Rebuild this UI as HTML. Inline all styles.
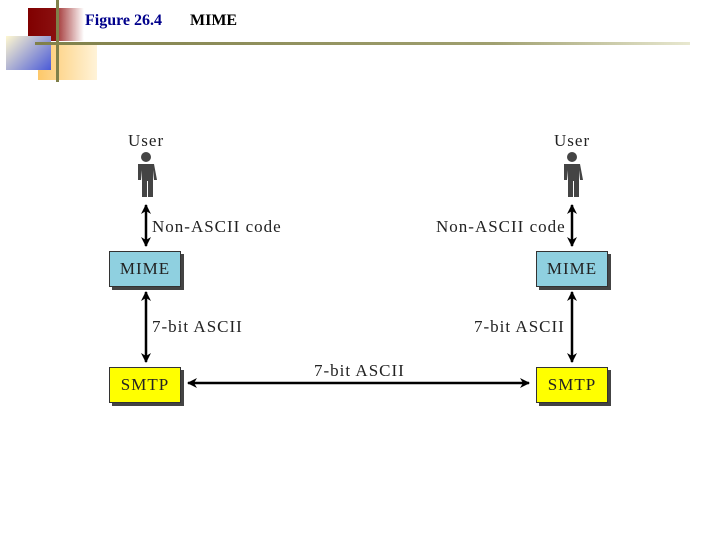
<!DOCTYPE html>
<html><head><style>
body{margin:0;width:720px;height:540px;background:#fff;position:relative;overflow:hidden;font-family:"Liberation Serif",serif}
.a{position:absolute}
.box{position:absolute;width:72px;height:36px;border:1px solid #333;box-shadow:3px 3px 0 #444;font-size:17px;letter-spacing:1px;text-align:center;line-height:34px;color:#222;box-sizing:border-box}
.lbl{position:absolute;font-size:17px;letter-spacing:1px;color:#222;white-space:nowrap}
</style></head><body>
<div class="a" style="left:38px;top:45px;width:59px;height:35px;background:linear-gradient(90deg,#fdc86a,#fff3d8)"></div>
<div class="a" style="left:28px;top:8px;width:28px;height:33px;background:linear-gradient(90deg,#800000,#8a1010)"></div>
<div class="a" style="left:56px;top:8px;width:28px;height:33px;background:linear-gradient(90deg,#a03030,#fff)"></div>
<div class="a" style="left:6px;top:36px;width:45px;height:34px;background:linear-gradient(135deg,#fff8d0,#4a5ad8)"></div>
<div class="a" style="left:56px;top:0;width:3px;height:82px;background:#80804a"></div>
<div class="a" style="left:35px;top:42px;width:655px;height:3px;background:linear-gradient(90deg,#80804a,#a0a070 70%,#e8e8d0)"></div>
<div class="a" style="left:85px;top:12px;font-size:16px;font-weight:bold;color:#00008b">Figure 26.4</div>
<div class="a" style="left:190px;top:12px;font-size:16px;font-weight:bold;color:#000">MIME</div>

<svg class="a" style="left:0;top:0" width="720" height="540">
<defs><marker id="m" markerWidth="10" markerHeight="10" refX="9" refY="5" orient="auto-start-reverse" markerUnits="userSpaceOnUse"><path d="M0,0 L10,5 L0,10 L3,5z" fill="#000"/></marker></defs>
<g stroke="#000" stroke-width="2.5" marker-start="url(#m)" marker-end="url(#m)">
<line x1="146" y1="205" x2="146" y2="246"/><line x1="146" y1="292" x2="146" y2="362"/>
<line x1="572" y1="205" x2="572" y2="246"/><line x1="572" y1="292" x2="572" y2="362"/>
<line x1="188" y1="383" x2="529" y2="383"/>
</g>
<g fill="#444">
<g id="p"><circle cx="146" cy="157" r="5"/><path d="M138,164 h16 l3,16 h-3 l-1,-10 v27 h-5 v-16 h-1 v16 h-5 v-27 l-1,10 h-3z"/></g>
<use href="#p" x="426"/>
</g>
</svg>
<div class="lbl" style="left:128px;top:131px">User</div>
<div class="lbl" style="left:554px;top:131px">User</div>
<div class="lbl" style="left:152px;top:217px">Non-ASCII code</div>
<div class="lbl" style="left:436px;top:217px">Non-ASCII code</div>
<div class="lbl" style="left:152px;top:317px">7-bit ASCII</div>
<div class="lbl" style="left:474px;top:317px">7-bit ASCII</div>
<div class="lbl" style="left:314px;top:361px">7-bit ASCII</div>
<div class="box" style="left:109px;top:251px;background:#8fd0e0">MIME</div>
<div class="box" style="left:536px;top:251px;background:#8fd0e0">MIME</div>
<div class="box" style="left:109px;top:367px;background:#ffff00">SMTP</div>
<div class="box" style="left:536px;top:367px;background:#ffff00">SMTP</div>
</body></html>
